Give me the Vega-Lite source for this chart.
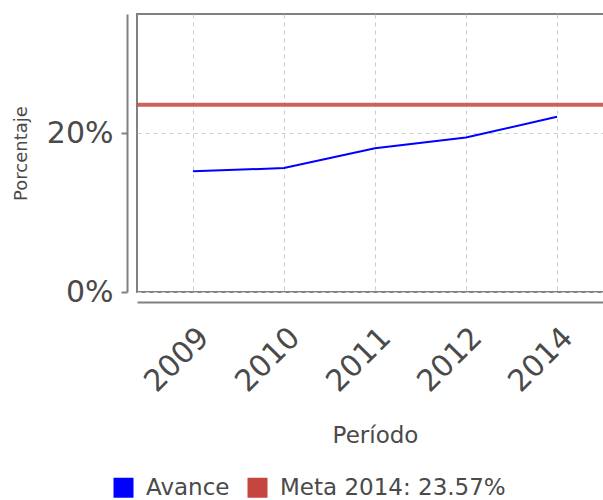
{
  "$schema": "https://vega.github.io/schema/vega-lite/v6.json",
  "width": 476,
  "height": 278,
  "padding": {"left": 12, "top": 14, "right": 0, "bottom": 0},
  "background": "white",
  "config": {
    "font": "DejaVu Sans",
    "view": {"stroke": "#808080", "strokeWidth": 2},
    "axis": {
      "domainColor": "#808080",
      "domainWidth": 2,
      "tickColor": "#808080",
      "labelColor": "#4a4a4a",
      "titleColor": "#4a4a4a",
      "titleFontWeight": "normal",
      "gridColor": "#cccccc",
      "gridDash": [4, 4],
      "gridWidth": 1
    }
  },
  "layer": [
    {
      "data": {
        "values": [
          {"periodo": "2009", "valor": 0.152, "serie": "Avance"},
          {"periodo": "2010", "valor": 0.156, "serie": "Avance"},
          {"periodo": "2011", "valor": 0.181, "serie": "Avance"},
          {"periodo": "2012", "valor": 0.1945, "serie": "Avance"},
          {"periodo": "2014", "valor": 0.2206, "serie": "Avance"}
        ]
      },
      "mark": {"type": "line", "strokeWidth": 2},
      "encoding": {
        "x": {
          "field": "periodo",
          "type": "ordinal",
          "title": "Período",
          "scale": {"type": "point", "padding": 0.615},
          "axis": {
            "offset": 10,
            "ticks": false,
            "labelAngle": -45,
            "labelFontSize": 30,
            "labelPadding": 20,
            "titleFontSize": 23,
            "titlePadding": 27,
            "grid": true
          }
        },
        "y": {
          "field": "valor",
          "type": "quantitative",
          "title": "Porcentaje",
          "scale": {"domain": [0, 0.35], "nice": false},
          "axis": {
            "offset": 10,
            "values": [0, 0.2],
            "format": ".0%",
            "tickSize": 6,
            "tickWidth": 2,
            "labelFontSize": 30,
            "labelPadding": 8,
            "titleFontSize": 18,
            "titlePadding": 16,
            "grid": true
          }
        },
        "color": {
          "field": "serie",
          "type": "nominal",
          "scale": {"domain": ["Avance", "Meta 2014: 23.57%"], "range": ["#0000ff", "#c4463e"]},
          "legend": {
            "title": null,
            "orient": "none",
            "direction": "horizontal",
            "legendX": -25,
            "legendY": 462,
            "symbolType": "square",
            "symbolSize": 400,
            "symbolStrokeWidth": 0,
            "symbolOpacity": 1,
            "labelFontSize": 23,
            "labelLimit": 0,
            "labelColor": "#4a4a4a",
            "labelOffset": 11,
            "columnPadding": 16,
            "encode": {
              "symbols": {
                "update": {
                  "fill": {"scale": "color", "field": "value"},
                  "fillOpacity": {"value": 1}
                }
              }
            }
          }
        }
      }
    },
    {
      "data": {"values": [{"valor": 0.2357, "serie": "Meta 2014: 23.57%"}]},
      "mark": {"type": "rule", "strokeWidth": 4, "opacity": 0.85},
      "encoding": {
        "y": {"field": "valor", "type": "quantitative"},
        "color": {"field": "serie", "type": "nominal"}
      }
    }
  ]
}
